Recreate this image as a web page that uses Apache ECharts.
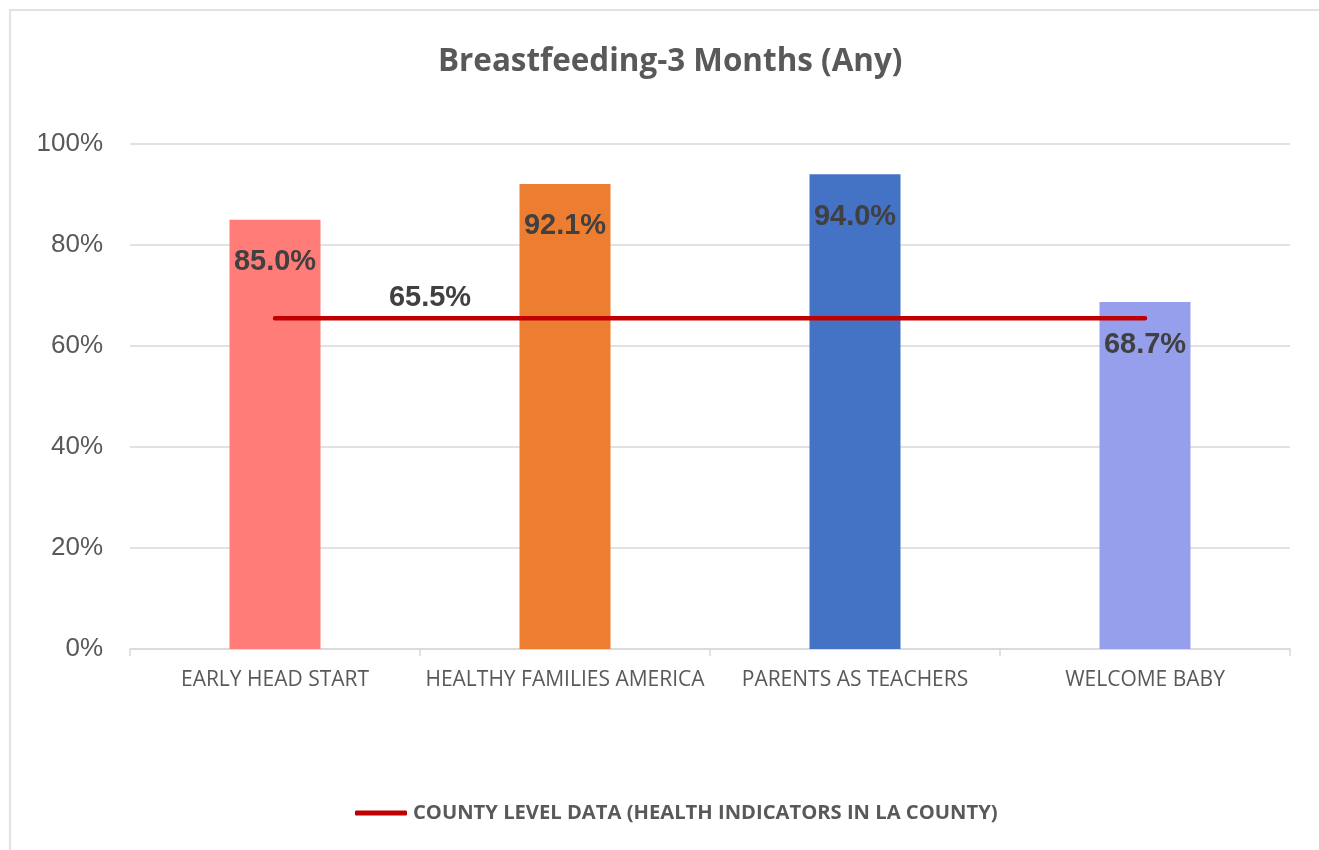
<!DOCTYPE html>
<html>
<head>
<meta charset="utf-8">
<title>Breastfeeding-3 Months (Any)</title>
<script src="https://cdn.jsdelivr.net/npm/echarts@6/dist/echarts.min.js"></script>
<style>
    html, body { margin: 0; padding: 0; background: #fff; }
    #chart { width: 1319px; height: 850px; }
</style>
</head>
<body>
<div id="chart"></div>
<script>
// data
const categories = ['EARLY HEAD START', 'HEALTHY FAMILIES AMERICA', 'PARENTS AS TEACHERS', 'WELCOME BABY']
const programValues = [85.0, 92.1, 94.0, 68.7]
const barColors = ['#ff7c78', '#ed7d31', '#4472c4', '#959fec']
const countyValue = 65.5
const countyName = 'COUNTY LEVEL DATA (HEALTH INDICATORS IN LA COUNTY)'
const yTicks = [0, 20, 40, 60, 80, 100]

const chart = echarts.init(document.getElementById('chart'))

chart.setOption({
    animation: false,
    title: {
        text: 'Breastfeeding-3 Months (Any)',
        left: 433,
        top: 42,
        textStyle: {
            fontFamily: 'Open Sans',
            fontWeight: 'bold',
            fontSize: 31.4,
            color: '#595959'
        }
    },
    graphic: [{
        type: 'rect',
        shape: { x: 10, y: 10, width: 1330, height: 860 },
        style: { fill: 'none', stroke: '#d9d9d9', lineWidth: 1.5 },
        silent: true
    }],
    legend: {
        bottom: 22,
        left: 350,
        itemWidth: 52,
        itemHeight: 5,
        itemGap: 0,
        data: [{ name: countyName, icon: 'roundRect' }],
        textStyle: {
            fontFamily: 'Open Sans',
            fontWeight: 'bold',
            fontSize: 20.2,
            color: '#595959',
            padding: [0, 0, 0, 1]
        }
    },
    grid: {
        top: 144,
        left: 130,
        right: 29,
        bottom: 201
    },
    xAxis: {
        type: 'category',
        data: categories,
        axisLine: { lineStyle: { color: '#d9d9d9', width: 1.5 } },
        axisTick: { show: true, length: 7, lineStyle: { color: '#d9d9d9', width: 1.5 } },
        axisLabel: {
            interval: 0,
            margin: 21,
            fontFamily: 'Open Sans',
            fontSize: 21,
            color: '#595959'
        }
    },
    yAxis: {
        type: 'value',
        min: yTicks[0],
        max: yTicks[yTicks.length - 1],
        interval: 20,
        axisLine: { show: false },
        axisTick: { show: false },
        splitLine: { lineStyle: { color: '#d9d9d9', width: 1.5 } },
        axisLabel: {
            margin: 27,
            fontFamily: 'Liberation Sans',
            fontSize: 26,
            color: '#595959',
            formatter: v => v + '%'
        }
    },
    series: [{
        name: 'Programs',
        type: 'bar',
        barWidth: 91,
        data: programValues.map((v, i) => ({
            value: v,
            itemStyle: { color: barColors[i] }
        })),
        label: {
            show: true,
            position: 'insideTop',
            distance: 28,
            fontFamily: 'Liberation Sans',
            fontWeight: 'bold',
            fontSize: 29,
            color: '#404040',
            formatter: p => p.value.toFixed(1) + '%'
        },
        z: 2
    }, {
        name: countyName,
        type: 'line',
        data: categories.map((c, i) => ({
            value: countyValue,
            label: { show: i === 0 }
        })),
        symbol: 'circle',
        symbolSize: 0,
        showSymbol: true,
        color: '#c00000',
        lineStyle: { color: '#c00000', width: 4.5, cap: 'round' },
        label: {
            position: 'top',
            offset: [155, -1],
            fontFamily: 'Liberation Sans',
            fontWeight: 'bold',
            fontSize: 29,
            color: '#404040',
            formatter: p => p.value.toFixed(1) + '%'
        },
        z: 3
    }]
})
</script>
</body>
</html>
